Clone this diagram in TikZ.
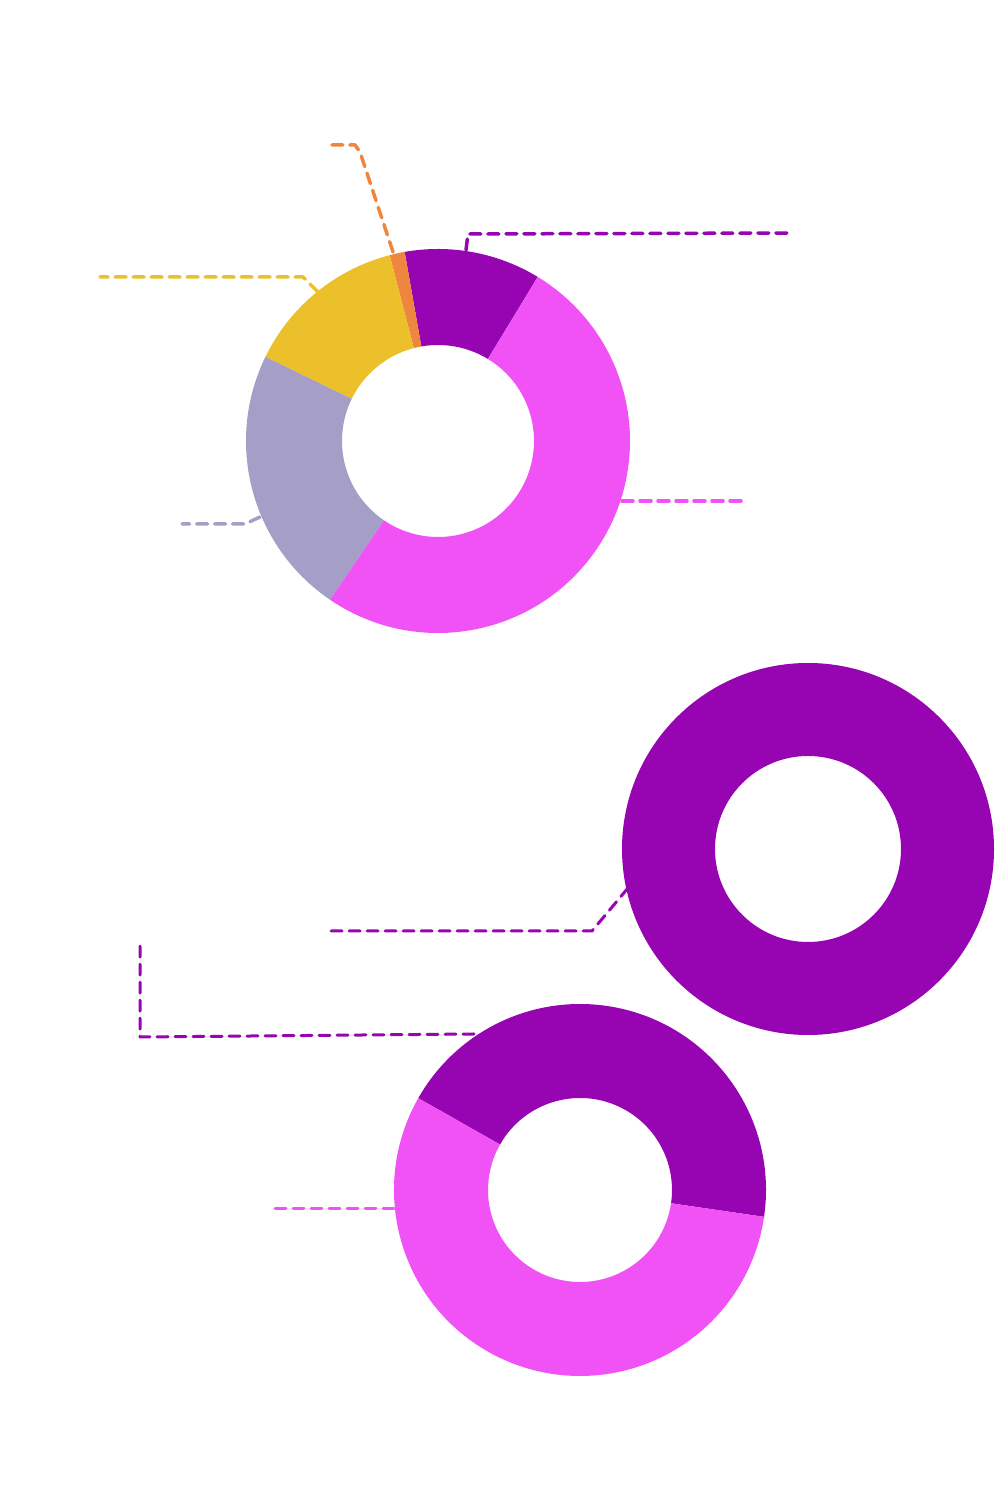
\documentclass[tikz,border=0pt]{standalone}
\usetikzlibrary{calc}
\definecolor{cpur}{HTML}{9704B1}
\definecolor{cpink}{HTML}{F052F5}
\definecolor{cyel}{HTML}{ECC02A}
\definecolor{cgray}{HTML}{A59FC8}
\definecolor{corg}{HTML}{EE8640}
\begin{document}
\begin{tikzpicture}[x=1pt,y=1pt,
  lead/.style={dashed,dash pattern=on 11pt off 7pt,line width=3.5pt,line cap=round,line join=round},
  leadthin/.style={lead,line width=3pt}]
\useasboundingbox (0,0) rectangle (1000,1500);
\coordinate (c1) at (438,1059);
\coordinate (c2) at (808,651);
\coordinate (c3) at (580,310);
\path[fill=cpur] ($(c1)+(58.7:192)$) arc[start angle=58.7,end angle=100,radius=192] -- ($(c1)+(100:96)$) arc[start angle=100,end angle=58.7,radius=96] -- cycle;
\path[fill=corg] ($(c1)+(100:192)$) arc[start angle=100,end angle=104.6,radius=192] -- ($(c1)+(104.6:96)$) arc[start angle=104.6,end angle=100,radius=96] -- cycle;
\path[fill=cyel] ($(c1)+(104.6:192)$) arc[start angle=104.6,end angle=154,radius=192] -- ($(c1)+(154:96)$) arc[start angle=154,end angle=104.6,radius=96] -- cycle;
\path[fill=cgray] ($(c1)+(154:192)$) arc[start angle=154,end angle=235.8,radius=192] -- ($(c1)+(235.8:96)$) arc[start angle=235.8,end angle=154,radius=96] -- cycle;
\path[fill=cpink] ($(c1)+(235.8:192)$) arc[start angle=235.8,end angle=418.7,radius=192] -- ($(c1)+(418.7:96)$) arc[start angle=418.7,end angle=235.8,radius=96] -- cycle;
\path[fill=cpur,even odd rule] (c2) circle[radius=186] (c2) circle[radius=93];
\path[fill=cpur] ($(c3)+(-8.3:186)$) arc[start angle=-8.3,end angle=150.4,radius=186] -- ($(c3)+(150.4:92)$) arc[start angle=150.4,end angle=-8.3,radius=92] -- cycle;
\path[fill=cpink] ($(c3)+(150.4:186)$) arc[start angle=150.4,end angle=351.7,radius=186] -- ($(c3)+(351.7:92)$) arc[start angle=351.7,end angle=150.4,radius=92] -- cycle;
% leaders
\coordinate (o1) at (393,1248); \coordinate (o2) at (360,1348); \coordinate (o3) at (355,1355); \coordinate (o4) at (326,1355);
\draw[lead,corg] (o1) -- (o2) -- (o3) -- (o4);
\coordinate (p1) at (466,1250); \coordinate (p2) at (468,1266); \coordinate (p3) at (792,1267);
\draw[lead,cpur] (p1) -- (p2) -- (p3);
\coordinate (y1) at (318,1208); \coordinate (y2) at (303,1223); \coordinate (y3) at (100,1223);
\draw[lead,cyel] (y1) -- (y2) -- (y3);
\coordinate (g1) at (260,983); \coordinate (g2) at (245,976); \coordinate (g3) at (182,976);
\draw[lead,cgray] (g1) -- (g2) -- (g3);
\coordinate (k1) at (622,999); \coordinate (k2) at (748,999);
\draw[lead,cpink] (k1) -- (k2);
\coordinate (d1) at (628,612); \coordinate (d2) at (592,569); \coordinate (d3) at (326,569);
\draw[leadthin,cpur] (d1) -- (d2) -- (d3);
\coordinate (e1) at (474,466); \coordinate (e2) at (140,463); \coordinate (e3) at (140,555);
\draw[leadthin,cpur] (e1) -- (e2) -- (e3);
\coordinate (f1) at (394,291); \coordinate (f2) at (270,291);
\draw[leadthin,cpink] (f1) -- (f2);
\end{tikzpicture}
\end{document}
